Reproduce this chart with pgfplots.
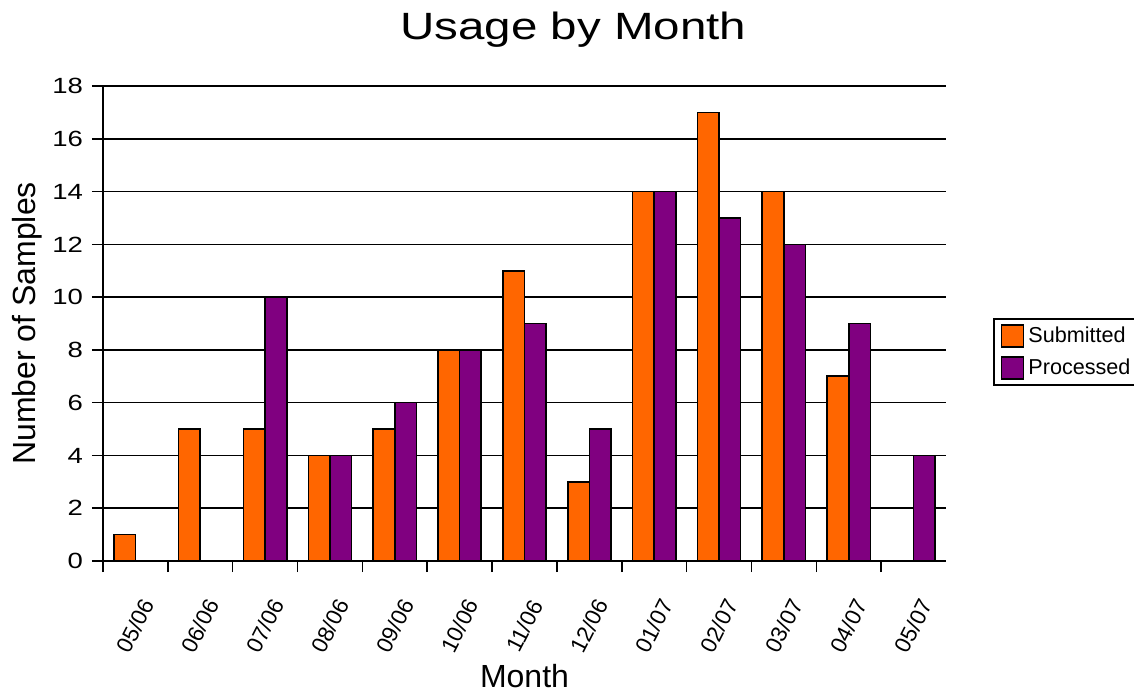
\documentclass[border=0pt]{standalone}
\usepackage{fontspec}
\setmainfont{Liberation Sans}
\newfontfamily\widefont{Liberation Sans}[FakeStretch=1.25]
\usepackage{pgfplots}
\pgfplotsset{compat=1.18}
\definecolor{sub}{RGB}{255,102,0}
\definecolor{proc}{RGB}{128,0,128}
\pgfplotsset{sqlegend/.style={legend image code/.code={\draw[##1, line width=0.8pt] (0pt,-5.5pt) rectangle (11pt,5.5pt);}}}
\begin{document}
\begin{tikzpicture}
\useasboundingbox (0,0) rectangle (567pt,345.5pt);
\begin{axis}[
  at={(51.5pt,65pt)}, anchor=south west,
  width=421.5pt, height=237.5pt, scale only axis,
  ybar=0pt, bar width=0.3333,
  xmin=-0.5, xmax=12.5, ymin=0, ymax=18,
  ytick={0,2,...,18},
  xtick={0,...,12},
  xticklabels={05/06,06/06,07/06,08/06,09/06,10/06,11/06,12/06,01/07,02/07,03/07,04/07,05/07},
  minor xtick={-0.5,0.5,...,11.5},
  axis x line*=bottom, axis y line*=left,
  axis line style={-, line width=0.8pt, black},
  every outer x axis line/.append style={-},
  every outer y axis line/.append style={-},
  tick align=outside,
  major tick length=5.5pt, minor tick length=5.5pt,
  major x tick style={draw=none},
  minor x tick style={black, line width=0.8pt},
  major y tick style={black, line width=0.8pt},
  ymajorgrids, major grid style={black, line width=0.8pt},
  /pgf/number format/assume math mode=true,
  yticklabel style={xshift=-1pt, font=\widefont\fontsize{11}{13}\selectfont},
  xticklabel style={yshift=-27pt, rotate=63, anchor=center, font=\fontsize{11.2}{13}\selectfont},
  title={Usage by Month},
  title style={font=\widefont\fontsize{19}{23}\selectfont, at={(axis description cs:0.558,1.0983)}, anchor=base, yshift=-6pt},
  xlabel={Month},
  xlabel style={font=\fontsize{16}{19}\selectfont, at={(axis description cs:0.5,-0.267)}, anchor=base},
  ylabel={Number of Samples},
  ylabel style={font=\fontsize{16}{19}\selectfont, at={(axis description cs:-0.09,0.5)}, anchor=center},
  legend style={at={(axis description cs:1.0558,0.5116)}, anchor=north west, draw=black, line width=0.8pt,
    font=\fontsize{10.8}{12}\selectfont, inner xsep=3.5pt, inner ysep=2pt, row sep=2.5pt,
    legend cell align=left},
]
\addplot[fill=sub, draw=black, line width=0.8pt, sqlegend]
  coordinates {(0,1) (1,5) (2,5) (3,4) (4,5) (5,8) (6,11) (7,3) (8,14) (9,17) (10,14) (11,7) (12,0)};
\addplot[fill=proc, draw=black, line width=0.8pt, sqlegend]
  coordinates {(0,0) (1,0) (2,10) (3,4) (4,6) (5,8) (6,9) (7,5) (8,14) (9,13) (10,12) (11,9) (12,4)};
\legend{Submitted,Processed}
\end{axis}
\end{tikzpicture}
\end{document}
